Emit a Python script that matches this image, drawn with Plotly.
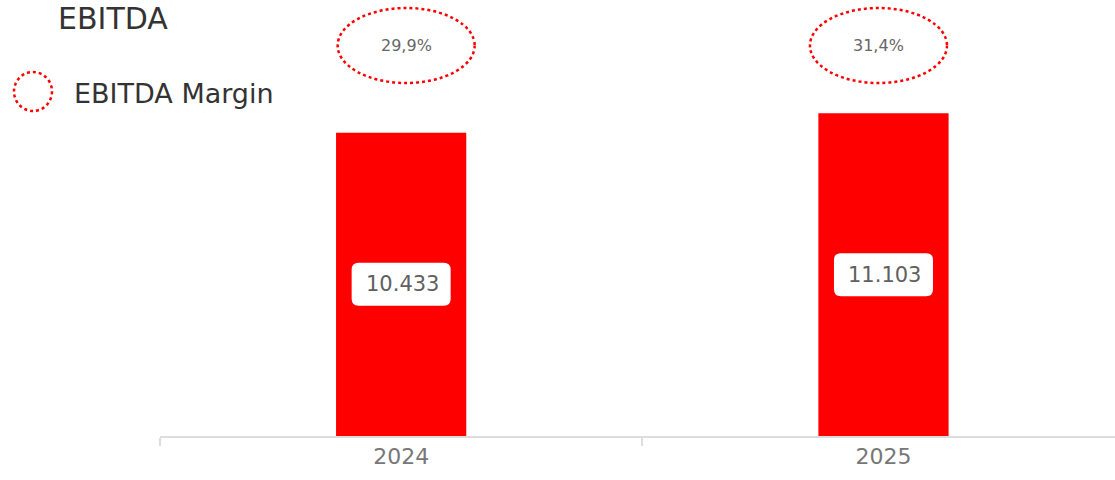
import plotly.graph_objects as go

categories = ["2024", "2025"]
ebitda = [10433, 11103]
ebitda_labels = ["10.433", "11.103"]
margin_labels = ["29,9%", "31,4%"]

FONT = "DejaVu Sans"
RED = "#ff0000"

fig = go.Figure()
fig.add_trace(go.Bar(
    x=categories, y=ebitda, marker=dict(color=RED, line=dict(width=0)),
    width=0.27, showlegend=False, hoverinfo="skip",
))

W, H, R = 49.5, 21.5, 7
box_path = (f"M {-W+R},{-H} L {W-R},{-H} Q {W},{-H} {W},{-H+R} L {W},{H-R} Q {W},{H} {W-R},{H} "
            f"L {-W+R},{H} Q {-W},{H} {-W},{H-R} L {-W},{-H+R} Q {-W},{-H} {-W+R},{-H} Z")

annotations = []
shapes = []
offsets = [5, -5]
ELL_Y = 0.8956
for i, (v, lab, m) in enumerate(zip(ebitda, ebitda_labels, margin_labels)):
    shapes.append(dict(
        type="path", xref="x", yref="y", xsizemode="pixel", ysizemode="pixel",
        xanchor=i, yanchor=v / 2, path=box_path,
        fillcolor="white", line=dict(width=0),
    ))
    annotations.append(dict(
        x=i, y=v / 2, xref="x", yref="y", text=lab, showarrow=False,
        xanchor="center", yanchor="middle", xshift=1,
        font=dict(family=FONT, size=21, color="#606060"),
    ))
    annotations.append(dict(
        x=i, y=ELL_Y, xref="x", yref="paper", text=m, showarrow=False,
        xanchor="center", yanchor="middle", xshift=offsets[i],
        font=dict(family=FONT, size=16, color="#666666"),
    ))
    shapes.append(dict(
        type="circle", xref="x", yref="paper", xsizemode="pixel", ysizemode="pixel",
        xanchor=i, yanchor=ELL_Y, x0=-68.5 + offsets[i], x1=68.5 + offsets[i], y0=-37.5, y1=37.5,
        line=dict(color=RED, width=2.5, dash="dot"),
    ))

# legend
shapes.append(dict(
    type="circle", xref="paper", yref="paper", xsizemode="pixel", ysizemode="pixel",
    xanchor=(33 - 160) / 955, yanchor=(436 - 91.5) / 436, x0=-19, x1=19, y0=-19.5, y1=19.5,
    line=dict(color=RED, width=2.5, dash="dot"),
))
annotations.append(dict(
    x=(72 - 160) / 955, y=(436 - 93) / 436, xref="paper", yref="paper",
    xanchor="left", yanchor="middle",
    text="EBITDA Margin", showarrow=False,
    font=dict(family=FONT, size=27, color="#333333"),
))

fig.update_layout(
    width=1115, height=480,
    margin=dict(l=160, r=0, t=0, b=44),
    paper_bgcolor="white", plot_bgcolor="white",
    title=dict(text="EBITDA", xref="container", yref="container",
               x=58 / 1115, y=1 - 18 / 480, xanchor="left", yanchor="middle",
               font=dict(family=FONT, size=30, color="#333333")),
    xaxis=dict(type="category", range=[-0.5, 1.48], showline=True, linecolor="#dddddd",
               linewidth=2, ticks="outside", tickson="boundaries", ticklen=8,
               tickcolor="#dddddd", tickwidth=2, showgrid=False,
               tickfont=dict(family=FONT, size=22, color="#777777")),
    yaxis=dict(range=[0, 15000], visible=False, showgrid=False),
    annotations=annotations, shapes=shapes,
)

fig.write_html("out.html", config={"displayModeBar": False},
               post_script="document.body.style.margin='0';")
